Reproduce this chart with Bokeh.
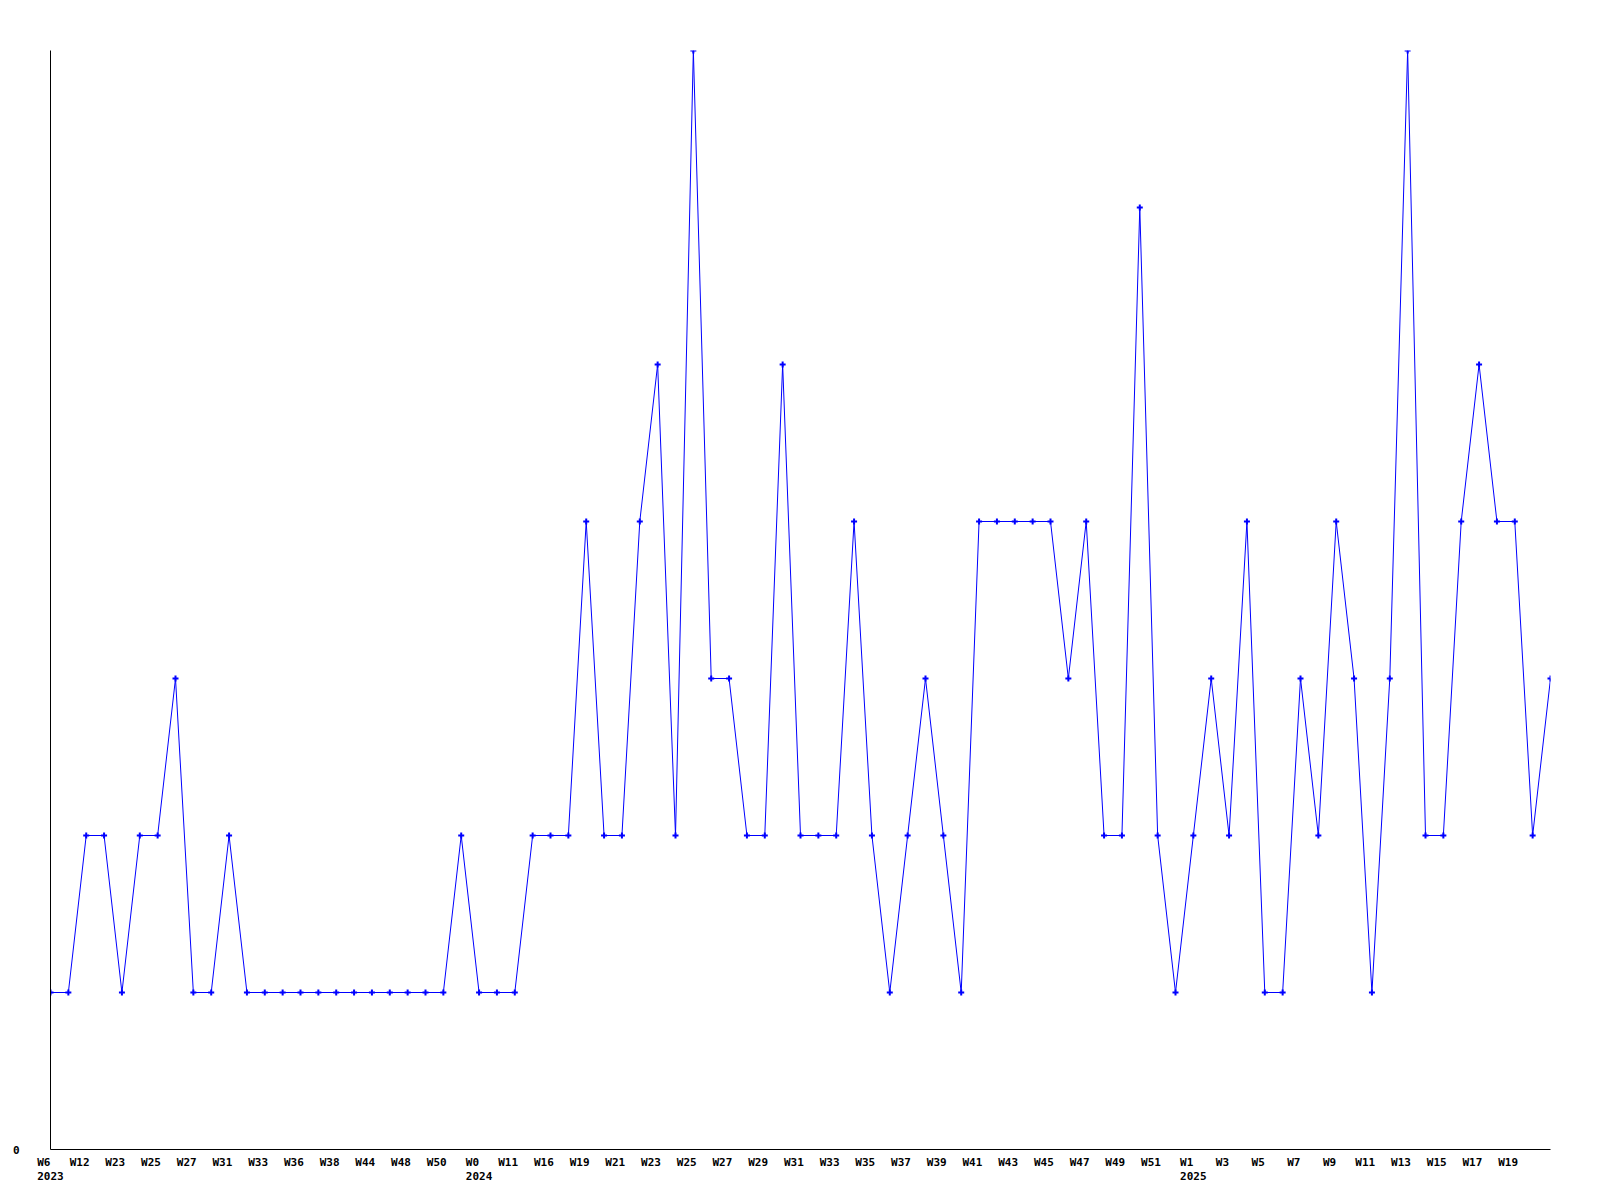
from bokeh.plotting import figure
from bokeh.models import ColumnDataSource, FixedTicker, LinearAxis, Range1d
from bokeh.embed import file_html
from bokeh.resources import INLINE

# --- data ---
values = [1, 1, 2, 2, 1, 2, 2, 3, 1, 1, 2, 1, 1, 1, 1, 1, 1, 1, 1, 1,
          1, 1, 1, 2, 1, 1, 1, 2, 2, 2, 4, 2, 2, 4, 5, 2, 7, 3, 3, 2,
          2, 5, 2, 2, 2, 4, 2, 1, 2, 3, 2, 1, 4, 4, 4, 4, 4, 3, 4, 2,
          2, 6, 2, 1, 2, 3, 2, 4, 1, 1, 3, 2, 4, 3, 1, 3, 7, 2, 2, 4,
          5, 4, 4, 2, 3]
week_labels = ["W6", "W12", "W23", "W25", "W27", "W31", "W33", "W36", "W38", "W44",
               "W48", "W50", "W0", "W11", "W16", "W19", "W21", "W23", "W25", "W27",
               "W29", "W31", "W33", "W35", "W37", "W39", "W41", "W43", "W45", "W47",
               "W49", "W51", "W1", "W3", "W5", "W7", "W9", "W11", "W13", "W15",
               "W17", "W19"]
year_labels = {"2023": 0, "2024": 24, "2025": 64}

x = list(range(len(values)))
src = ColumnDataSource(dict(x=x, y=values))

p = figure(width=1580, height=1195, output_backend="svg", toolbar_location=None,
           x_range=Range1d(0, len(values) - 1), y_range=Range1d(0, 7),
           min_border_left=50, min_border_top=50, min_border_right=30,
           min_border_bottom=46, x_axis_location=None, y_axis_location=None)
p.frame_width = 1500
p.frame_height = 1099
p.outline_line_color = None
p.grid.visible = False
p.background_fill_color = "white"
p.border_fill_color = "white"

p.line("x", "y", source=src, line_color="#0000FF", line_width=1)
p.scatter("x", "y", source=src, marker="cross", size=6, line_width=2,
          line_color="#0000FF")

FONT = "DejaVu Sans Mono"

def style(ax):
    ax.major_tick_line_color = None
    ax.minor_tick_line_color = None
    ax.major_label_text_font = FONT
    ax.major_label_text_font_style = "bold"
    ax.major_label_text_font_size = "11px"
    ax.major_label_text_color = "black"

# y axis: only 0 label
yax = LinearAxis(ticker=FixedTicker(ticks=[0]))
style(yax)
yax.axis_line_color = "black"
yax.major_label_standoff = 25
p.add_layout(yax, "left")

NB = "\u00a0\u00a0"
tick_pos = [2 * i for i in range(len(week_labels))]
xax = LinearAxis(ticker=FixedTicker(ticks=tick_pos))
xax.major_label_overrides = {t: l + NB for t, l in zip(tick_pos, week_labels)}
style(xax)
xax.axis_line_color = "black"
xax.major_label_standoff = 0
p.add_layout(xax, "below")

ypos = list(year_labels.values())
yrax = LinearAxis(ticker=FixedTicker(ticks=ypos))
yrax.major_label_overrides = {v: k for k, v in year_labels.items()}
style(yrax)
yrax.axis_line_color = None
yrax.major_label_standoff = -6
p.add_layout(yrax, "below")

open("out.html", "w").write(file_html(p, INLINE))
